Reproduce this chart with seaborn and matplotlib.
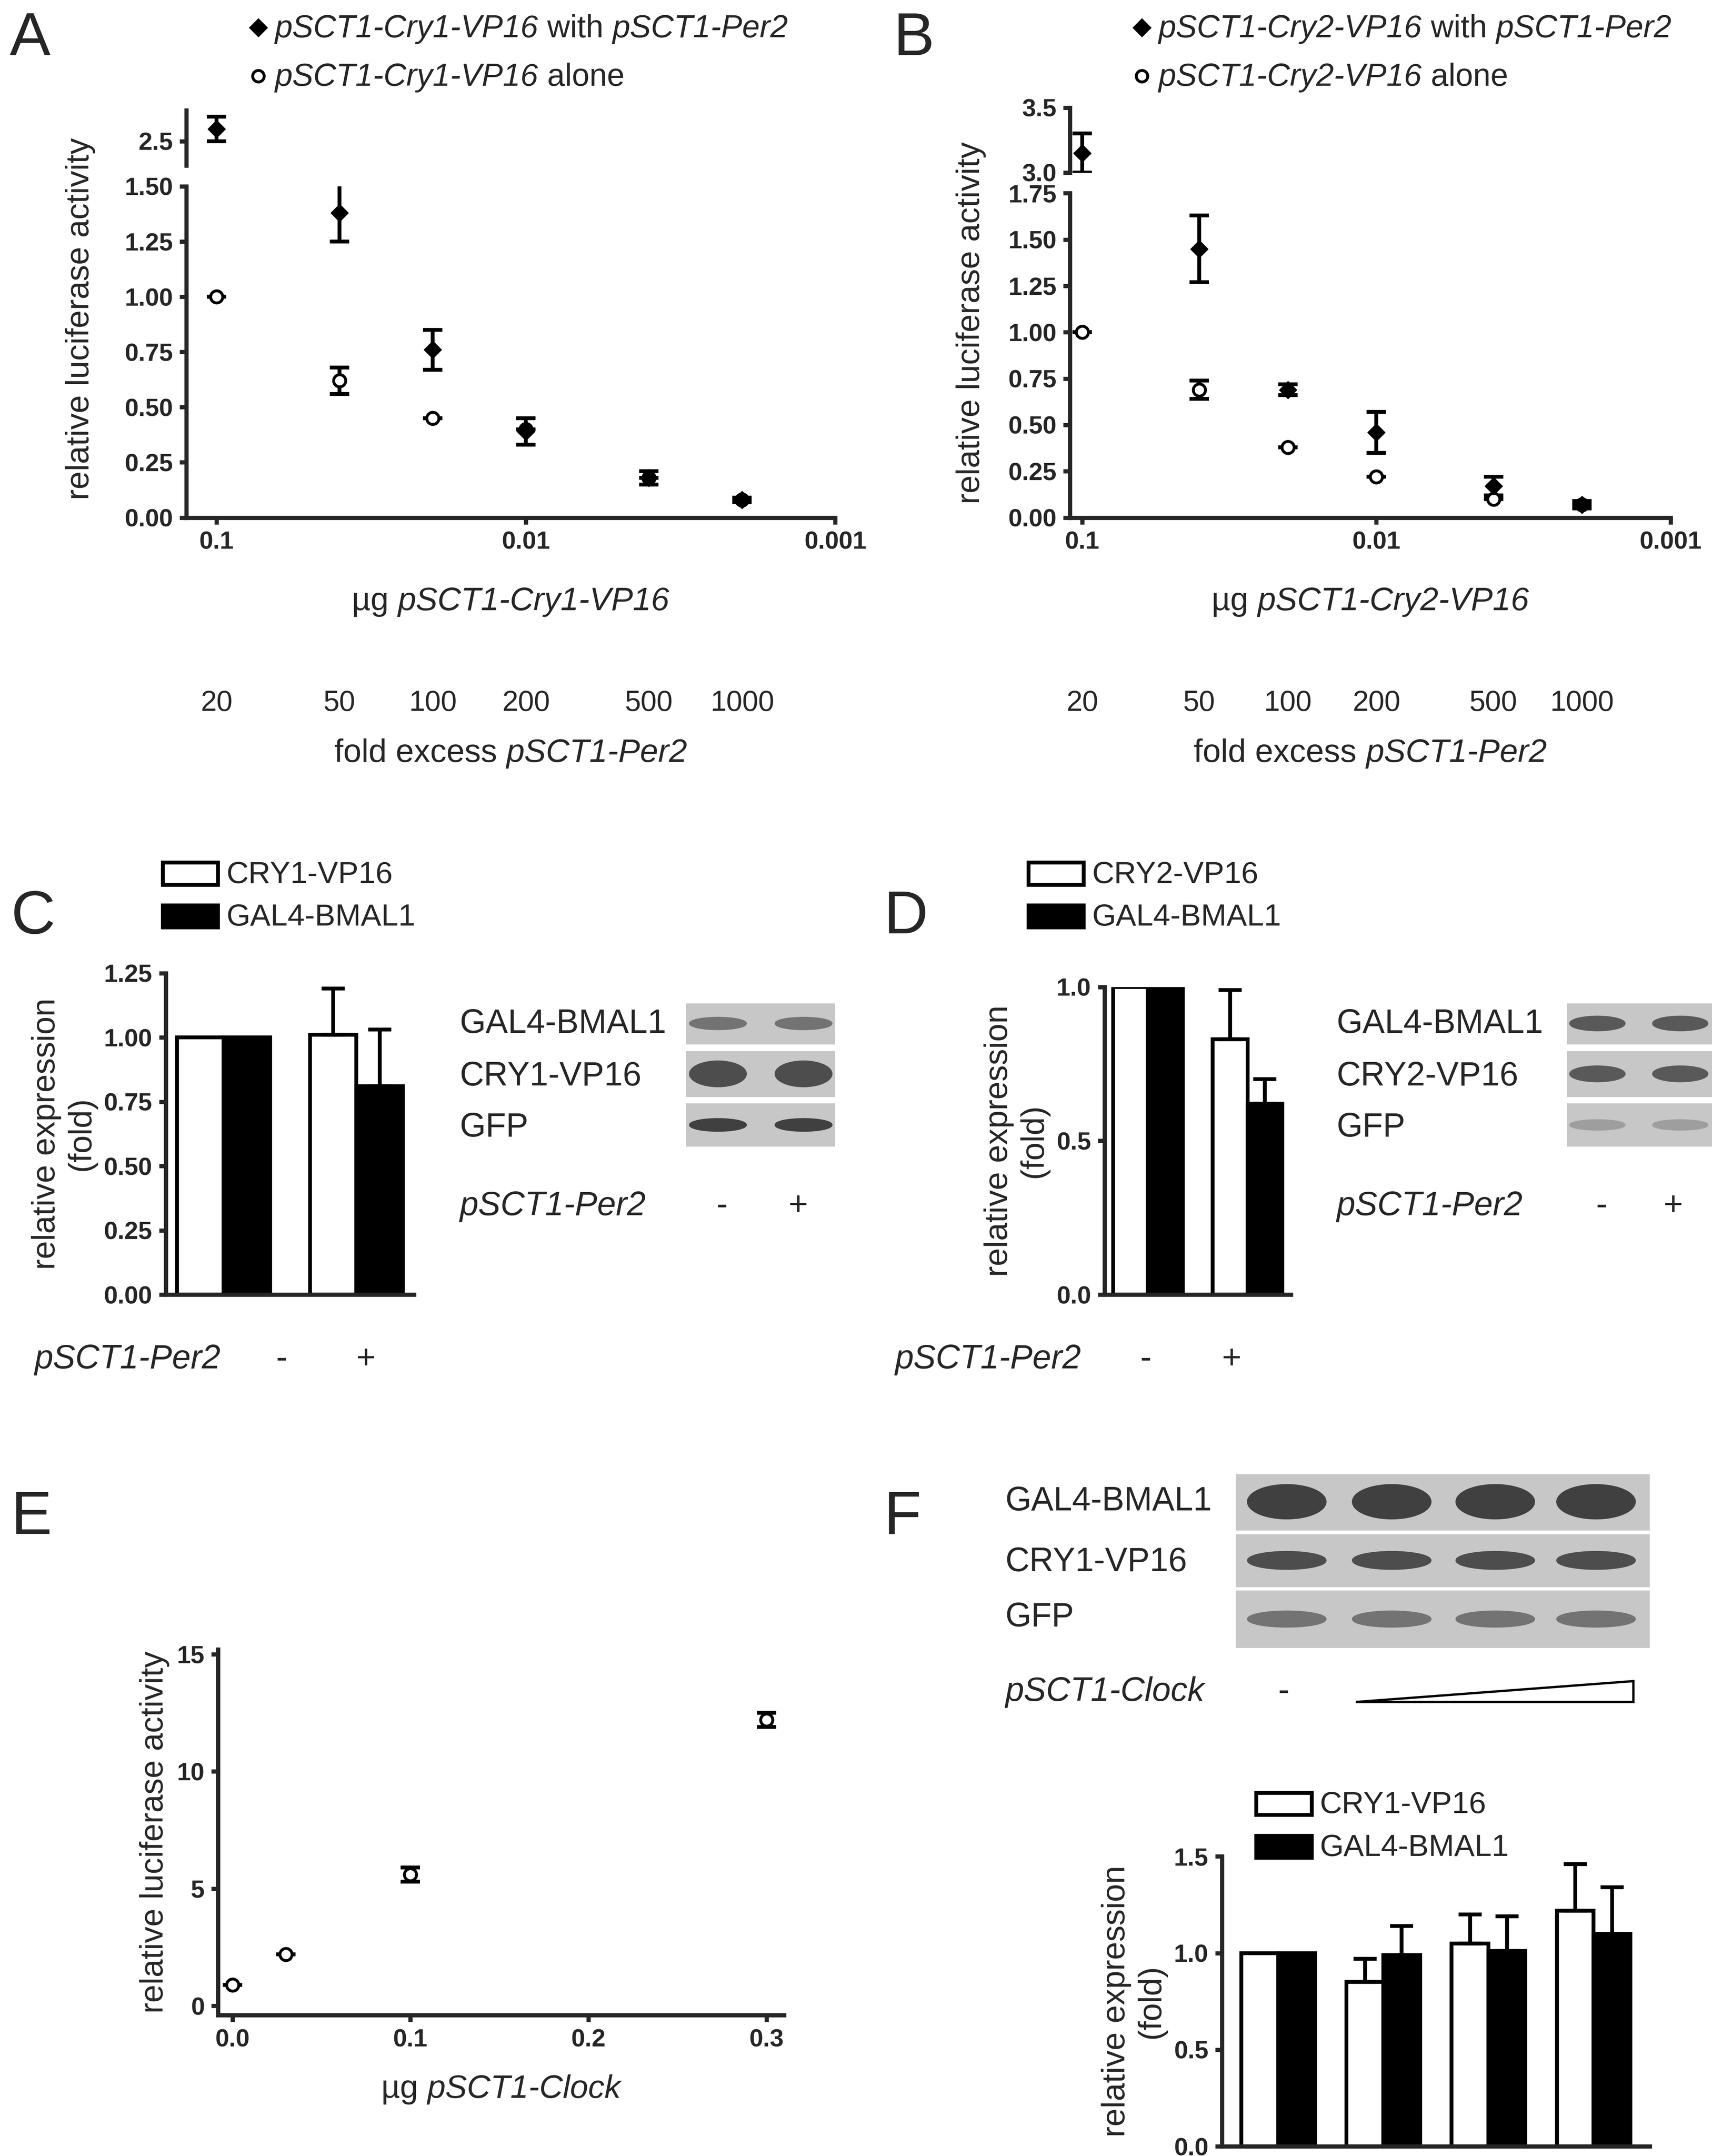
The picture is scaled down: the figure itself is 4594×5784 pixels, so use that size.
import numpy as np
import pandas as pd
import seaborn as sns
import matplotlib.pyplot as plt
from matplotlib.patches import Rectangle, Ellipse, Polygon
from matplotlib.transforms import blended_transform_factory

sns.set_style("ticks")
plt.rcParams['font.family'] = ['Liberation Sans', 'DejaVu Sans']
plt.rcParams['axes.linewidth'] = 2.2
plt.rcParams['xtick.major.width'] = 2.2
plt.rcParams['ytick.major.width'] = 2.2

# ---- data ----
dose = [0.1, 0.04, 0.02, 0.01, 0.004, 0.002]
fold = ["20", "50", "100", "200", "500", "1000"]
a_with = [2.6, 1.38, 0.76, 0.39, 0.18, 0.08]
a_with_err = [0.1, 0.13, 0.09, 0.06, 0.03, 0.01]
a_alone = [1.0, 0.62, 0.45, 0.40, 0.18, 0.08]
a_alone_err = [0.0, 0.06, 0.0, 0.0, 0.0, 0.0]
b_with = [3.15, 1.45, 0.69, 0.46, 0.17, 0.07]
b_with_err = [0.15, 0.18, 0.03, 0.11, 0.05, 0.02]
b_alone = [1.0, 0.69, 0.38, 0.22, 0.10, 0.07]
b_alone_err = [0.0, 0.05, 0.0, 0.0, 0.0, 0.0]

c_groups = ["-", "+"]
c_cry = [1.0, 1.01]; c_cry_err = [0.0, 0.18]
c_gal = [1.0, 0.81]; c_gal_err = [0.0, 0.22]
d_cry = [1.0, 0.83]; d_cry_err = [0.0, 0.16]
d_gal = [1.0, 0.62]; d_gal_err = [0.0, 0.08]

e_x = [0.0, 0.03, 0.1, 0.3]
e_y = [0.9, 2.2, 5.6, 12.2]
e_err = [0.0, 0.0, 0.3, 0.3]

f_groups = ["1", "2", "3", "4"]
f_cry = [1.0, 0.85, 1.05, 1.22]; f_cry_err = [0.0, 0.12, 0.15, 0.24]
f_gal = [1.0, 0.99, 1.01, 1.10]; f_gal_err = [0.0, 0.15, 0.18, 0.24]

W, H = 1240.0, 1562.0
fig = plt.figure(figsize=(4594 / 370, 5784 / 370), dpi=370)
renderer = fig.canvas.get_renderer()

def rect(x0, y0, x1, y1):
    return fig.add_axes([x0 / W, 1 - y1 / H, (x1 - x0) / W, (y1 - y0) / H])

def ftext(x, y, s, **kw):
    kw.setdefault("fontsize", 16)
    return fig.text(x / W, 1 - y / H, s, **kw)

def mixed(x, y, parts, fontsize=16, ha="left", va="baseline"):
    # parts: list of (text, italic)
    texts = []
    cx = x
    for s, it in parts:
        t = ftext(cx, y, s, fontsize=fontsize, fontstyle="italic" if it else "normal", va=va)
        w = t.get_window_extent(renderer).width / fig.dpi * 100
        texts.append((t, w))
        cx += w
    if ha == "center":
        shift = (cx - x) / 2
        for t, _ in texts:
            px, py = t.get_position()
            t.set_x(px - shift / W)

TICK = dict(labelsize=13)

def style(ax):
    sns.despine(ax=ax)
    ax.tick_params(**TICK)
    for lab in ax.get_xticklabels() + ax.get_yticklabels():
        lab.set_fontweight("bold")

def dose_panel(x0, x1, ytop, ybreak, ybot, xmax, topl, toph, topticks, botmax, botticks,
               yw, yw_err, ya, ya_err, name, letter):
    axt = rect(x0, ytop, x1, ybreak)
    axb = rect(x0, ybreak + 15, x1, ybot)
    for ax, lo, hi in ((axt, topl, toph), (axb, 0, botmax)):
        ax.set_xscale("log")
        ax.set_xlim(xmax, 0.001)
        ax.set_ylim(lo, hi)
        sns.scatterplot(x=dose, y=ya, ax=ax, color="white", edgecolor="black",
                        linewidth=1.5, s=40, zorder=3)
        sns.scatterplot(x=dose, y=yw, ax=ax, color="black", edgecolor="black",
                        marker="D", s=40, zorder=4)
        ax.errorbar(dose, yw, yerr=yw_err, fmt="none", ecolor="black", elinewidth=2,
                    capsize=5, capthick=2, zorder=2)
        ax.errorbar(dose, ya, yerr=ya_err, fmt="none", ecolor="black", elinewidth=2,
                    capsize=5, capthick=2, zorder=2)
    axt.set_yticks(topticks)
    axt.set_yticklabels([f"{t:.1f}" for t in topticks])
    axt.set_xticks([])
    axt.minorticks_off()
    axt.tick_params(axis="x", which="both", bottom=False, labelbottom=False)
    axb.set_yticks(botticks)
    axb.set_yticklabels([f"{t:.2f}" for t in botticks])
    axb.set_xticks([0.1, 0.01, 0.001])
    axb.set_xticklabels(["0.1", "0.01", "0.001"])
    axb.minorticks_off()
    style(axt); style(axb)
    axt.spines["bottom"].set_visible(False)
    axb.set_ylabel("relative luciferase activity", fontsize=17)
    axb.yaxis.set_label_coords(-0.14, 0.6)
    xc = (x0 + x1) / 2
    mixed(xc, 442, [("µg ", False), (f"pSCT1-{name}-VP16", True)], fontsize=17, ha="center")
    tr = blended_transform_factory(axb.transData, fig.transFigure)
    for d, f in zip(dose, fold):
        axb.text(d, 1 - 515 / H, f, transform=tr, ha="center", fontsize=15)
    mixed(xc, 552, [("fold excess ", False), ("pSCT1-Per2", True)], fontsize=17, ha="center")
    ftext(x0 - 128, 40, letter, fontsize=32)
    axl = x0 + 52
    fig.lines.append(plt.Line2D([axl / W], [1 - 20 / H], marker="D", color="black",
                                markersize=6, transform=fig.transFigure))
    fig.lines.append(plt.Line2D([axl / W], [1 - 55 / H], marker="o", mfc="white", mec="black",
                                markersize=6, mew=1.5, transform=fig.transFigure))
    mixed(axl + 12, 27, [(f"pSCT1-{name}-VP16", True), (" with ", False), ("pSCT1-Per2", True)],
          fontsize=16.5)
    mixed(axl + 12, 62, [(f"pSCT1-{name}-VP16", True), (" alone", False)], fontsize=16.5)

dose_panel(135, 605, 80, 120, 375, 0.125, 2.3, 2.75, [2.5], 1.5,
           [0, 0.25, 0.5, 0.75, 1.0, 1.25, 1.5],
           a_with, a_with_err, a_alone, a_alone_err, "Cry1", "A")
dose_panel(775, 1210, 78, 125, 375, 0.11, 3.0, 3.5, [3.0, 3.5], 1.75,
           [0, 0.25, 0.5, 0.75, 1.0, 1.25, 1.5, 1.75],
           b_with, b_with_err, b_alone, b_alone_err, "Cry2", "B")

def bar_panel(rectc, groups, cry, cry_err, gal, gal_err, ymax, yticks, fmt, names):
    ax = rect(*rectc)
    df = pd.DataFrame({"g": groups * 2, "v": cry + gal,
                       "s": [names[0]] * len(groups) + [names[1]] * len(groups)})
    sns.barplot(data=df, x="g", y="v", hue="s", palette=["white", "black"],
                edgecolor="black", linewidth=2, width=0.7, ax=ax, legend=False)
    errs = cry_err + gal_err
    for p, e in zip(ax.patches, errs):
        if e > 0:
            xc = p.get_x() + p.get_width() / 2
            ax.errorbar([xc], [p.get_height()], yerr=[[0], [e]], fmt="none",
                        ecolor="black", elinewidth=2, capsize=6, capthick=2)
    ax.set_ylim(0, ymax)
    ax.set_yticks(yticks)
    ax.set_yticklabels([fmt.format(t) for t in yticks])
    ax.set_xlabel(""); ax.set_ylabel("relative expression\n(fold)", fontsize=17)
    ax.set_xticks([])
    style(ax)
    ax.tick_params(axis="x", bottom=False)
    return ax

def legend_boxes(x, y, names):
    for i, (n, c) in enumerate(zip(names, ["white", "black"])):
        yy = y + i * 31
        fig.patches.append(Rectangle((x / W, 1 - (yy + 8) / H), 40 / W, 16 / H, facecolor=c,
                                     edgecolor="black", linewidth=2, transform=fig.transFigure))
        ftext(x + 46, yy + 1, n, fontsize=16, va="center")

def blot(x0, x1, rows, lanes, dark):
    ax = rect(x0, rows[0][0], x1, rows[-1][1])
    ax.set_xlim(x0, x1); ax.set_ylim(rows[-1][1], rows[0][0])
    ax.axis("off")
    for (r0, r1), dk in zip(rows, dark):
        ax.add_patch(Rectangle((x0, r0), x1 - x0, r1 - r0 - 4, color=(0.78, 0.78, 0.78)))
        for lx in lanes:
            ax.add_patch(Ellipse((lx, (r0 + r1 - 4) / 2), (x1 - x0) / len(lanes) * 0.75,
                                 (r1 - r0) * dk[1], color=(dk[0],) * 3))
    return ax

IT = dict(fontstyle="italic", va="center", fontsize=17.5)
PL = dict(va="center", fontsize=17.5)

# C
bar_panel((120, 705, 300, 938), c_groups, c_cry, c_cry_err, c_gal, c_gal_err, 1.25,
          [0, 0.25, 0.5, 0.75, 1.0, 1.25], "{:.2f}", ["CRY1-VP16", "GAL4-BMAL1"])
legend_boxes(118, 633, ["CRY1-VP16", "GAL4-BMAL1"])
ftext(8, 665, "C", fontsize=32, va="center")
ftext(25, 985, "pSCT1-Per2", **IT)
ftext(204, 985, "-", ha="center", **PL)
ftext(265, 985, "+", ha="center", **PL)
blot(497, 605, [(727, 760), (762, 798), (800, 834)], [520, 582],
     [(0.45, 0.25), (0.3, 0.5), (0.25, 0.25)])
for y, s in [(742, "GAL4-BMAL1"), (780, "CRY1-VP16"), (817, "GFP")]:
    ftext(333, y, s, **PL)
ftext(333, 874, "pSCT1-Per2", **IT)
ftext(523, 874, "-", ha="center", **PL)
ftext(578, 874, "+", ha="center", **PL)

# D
bar_panel((800, 715, 935, 938), c_groups, d_cry, d_cry_err, d_gal, d_gal_err, 1.0,
          [0, 0.5, 1.0], "{:.1f}", ["CRY2-VP16", "GAL4-BMAL1"])
legend_boxes(745, 633, ["CRY2-VP16", "GAL4-BMAL1"])
ftext(640, 665, "D", fontsize=32, va="center")
ftext(648, 985, "pSCT1-Per2", **IT)
ftext(830, 985, "-", ha="center", **PL)
ftext(892, 985, "+", ha="center", **PL)
blot(1135, 1240, [(727, 760), (762, 798), (800, 834)], [1157, 1217],
     [(0.35, 0.3), (0.35, 0.3), (0.62, 0.2)])
for y, s in [(742, "GAL4-BMAL1"), (780, "CRY2-VP16"), (817, "GFP")]:
    ftext(968, y, s, **PL)
ftext(968, 874, "pSCT1-Per2", **IT)
ftext(1160, 874, "-", ha="center", **PL)
ftext(1212, 874, "+", ha="center", **PL)

# E
axe = rect(158, 1195, 568, 1460)
sns.scatterplot(x=e_x, y=e_y, ax=axe, color="white", edgecolor="black", linewidth=1.5,
                s=40, zorder=3)
axe.errorbar(e_x, e_y, yerr=e_err, fmt="none", ecolor="black", elinewidth=2, capsize=5,
             capthick=2, zorder=2)
axe.set_xlim(-0.008, 0.31); axe.set_ylim(-0.4, 15.2)
axe.set_yticks([0, 5, 10, 15]); axe.set_xticks([0, 0.1, 0.2, 0.3])
axe.set_xticklabels(["0.0", "0.1", "0.2", "0.3"])
style(axe)
axe.set_ylabel("relative luciferase activity", fontsize=17)
mixed(363, 1520, [("µg ", False), ("pSCT1-Clock", True)], fontsize=17, ha="center")
ftext(8, 1100, "E", fontsize=32, va="center")

# F
ftext(640, 1100, "F", fontsize=32, va="center")
blot(895, 1195, [(1068, 1112), (1112, 1153), (1153, 1197)], [932, 1008, 1083, 1156],
     [(0.25, 0.55), (0.3, 0.3), (0.45, 0.25)])
for y, s in [(1088, "GAL4-BMAL1"), (1132, "CRY1-VP16"), (1172, "GFP")]:
    ftext(728, y, s, **PL)
ftext(728, 1226, "pSCT1-Clock", **IT)
ftext(930, 1226, "-", ha="center", **PL)
fig.patches.append(Polygon([(982 / W, 1 - 1233 / H), (1183 / W, 1 - 1233 / H),
                            (1183 / W, 1 - 1218 / H)], closed=True, facecolor="white",
                           edgecolor="black", linewidth=1.2, transform=fig.transFigure))
bar_panel((885, 1345, 1195, 1555), f_groups, f_cry, f_cry_err, f_gal, f_gal_err, 1.5,
          [0, 0.5, 1.0, 1.5], "{:.1f}", ["CRY1-VP16", "GAL4-BMAL1"])
legend_boxes(910, 1307, ["CRY1-VP16", "GAL4-BMAL1"])

fig.savefig("out.png", dpi=370)
